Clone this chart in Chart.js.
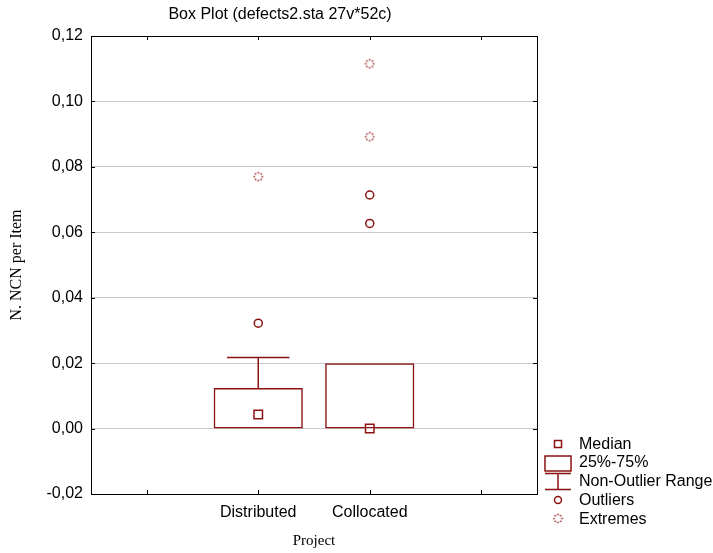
<!DOCTYPE html>
<html>
<head>
<meta charset="utf-8">
<script src="https://cdn.jsdelivr.net/npm/chart.js@4"></script>
<style>
  body { margin: 0; background: #fff; }
  #wrap { width: 713px; height: 553px; }
</style>
</head>
<body>
<div id="wrap"><canvas id="boxChart"></canvas></div>
<script>
// data
var groups = ['Distributed', 'Collocated'];
var labels = [''].concat(groups, ['']);   // empty slots left and right
var q1 = [0, 0];
var q3 = [0.0124, 0.0200];
var medians = [0.0043, 0.0];
var whiskerMin = [0, 0];
var whiskerMax = [0.0217, 0.0200];
var outliers = [[0.0322], [0.0714, 0.0627]];
var extremes = [[0.0770], [0.1115, 0.0892]];
var yTicks = { min: -0.02, max: 0.12, step: 0.02 };

var red = '#8b1212';
var sans = '"Liberation Sans", Arial, sans-serif';
var serif = '"Liberation Serif", "Times New Roman", serif';

// dotted ring used for the "Extremes" marker
function makeExtremeIcon() {
    var c = document.createElement('canvas');
    c.width = 11; c.height = 11;
    var g = c.getContext('2d');
    g.fillStyle = '#9a1f1f';
    for (var k = 0; k < 8; k++) {
        var a = k * Math.PI / 4;
        g.fillRect(5.5 + Math.cos(a) * 4 - 0.75, 5.5 + Math.sin(a) * 4 - 0.75, 1.5, 1.5);
    }
    return c;
}
var extremeIcon = makeExtremeIcon();

function pointsFrom(list) {
    var pts = [];
    list.forEach(function (vals, i) {
        vals.forEach(function (v) { pts.push({ x: groups[i], y: v }); });
    });
    return pts;
}

var whiskerPlugin = {
    id: 'whiskers',
    beforeDatasetsDraw: function (chart) {
        var ctx = chart.ctx, x = chart.scales.x, y = chart.scales.y;
        var half = (x.width / labels.length) * 0.28;
        ctx.save();
        ctx.strokeStyle = red;
        ctx.lineWidth = 1.5;
        groups.forEach(function (g, i) {
            var cx = x.getPixelForValue(labels.indexOf(g));
            [[q3[i], whiskerMax[i]], [q1[i], whiskerMin[i]]].forEach(function (p) {
                if (p[0] === p[1]) return;
                var a = y.getPixelForValue(p[0]), b = y.getPixelForValue(p[1]);
                ctx.beginPath();
                ctx.moveTo(cx, a); ctx.lineTo(cx, b);
                ctx.moveTo(cx - half, b); ctx.lineTo(cx + half, b);
                ctx.stroke();
            });
        });
        ctx.restore();
    }
};

var framePlugin = {
    id: 'frame',
    afterDraw: function (chart) {
        var ctx = chart.ctx, a = chart.chartArea, x = chart.scales.x, y = chart.scales.y;
        ctx.save();
        ctx.strokeStyle = '#000';
        ctx.lineWidth = 1;
        ctx.strokeRect(Math.round(a.left) + 0.5, Math.round(a.top) + 0.5,
            Math.round(a.right - a.left), Math.round(a.bottom - a.top));
        ctx.beginPath();
        y.ticks.forEach(function (t) {
            var py = Math.round(y.getPixelForValue(t.value)) + 0.5;
            ctx.moveTo(a.left, py); ctx.lineTo(a.left + 4, py);
            ctx.moveTo(a.right, py); ctx.lineTo(a.right - 4, py);
        });
        labels.forEach(function (l, i) {
            var px = Math.round(x.getPixelForValue(i)) + 0.5;
            ctx.moveTo(px, a.top); ctx.lineTo(px, a.top + 4);
            ctx.moveTo(px, a.bottom); ctx.lineTo(px, a.bottom - 4);
        });
        ctx.stroke();

        // title
        ctx.fillStyle = '#000';
        ctx.font = '16px ' + sans;
        ctx.textAlign = 'center';
        ctx.textBaseline = 'middle';
        ctx.fillText('Box Plot (defects2.sta 27v*52c)', 280, 15);

        // legend on the right
        var lx = a.right + 21;
        var tx = a.right + 42;
        ctx.strokeStyle = red;
        ctx.lineWidth = 1.5;
        ctx.strokeRect(lx - 3.5, 440.5, 7, 7);
        ctx.strokeRect(lx - 13, 456, 26, 15);
        ctx.beginPath();
        ctx.moveTo(lx - 13, 473.5); ctx.lineTo(lx + 13, 473.5);
        ctx.moveTo(lx, 473.5); ctx.lineTo(lx, 489.5);
        ctx.moveTo(lx - 13, 489.5); ctx.lineTo(lx + 13, 489.5);
        ctx.stroke();
        ctx.beginPath();
        ctx.arc(lx, 500, 3.5, 0, Math.PI * 2);
        ctx.stroke();
        ctx.drawImage(extremeIcon, lx - 5.5, 513);
        ctx.textAlign = 'left';
        ctx.fillText('Median', tx, 445);
        ctx.fillText('25%-75%', tx, 463);
        ctx.fillText('Non-Outlier Range', tx, 482);
        ctx.fillText('Outliers', tx, 501);
        ctx.fillText('Extremes', tx, 520);
        ctx.restore();
    }
};

new Chart(document.getElementById('boxChart'), {
    type: 'bar',
    data: {
        labels: labels,
        datasets: [{
            label: '25%-75%',
            data: groups.map(function (g, i) { return { x: g, y: [q1[i], q3[i]] }; }),
            backgroundColor: 'rgba(0,0,0,0)',
            borderColor: red,
            borderWidth: 1.5,
            borderSkipped: false,
            barPercentage: 0.8,
            categoryPercentage: 1
        }, {
            type: 'scatter',
            label: 'Median',
            data: groups.map(function (g, i) { return { x: g, y: medians[i] }; }),
            pointStyle: 'rect',
            pointRadius: 6,
            backgroundColor: '#fff',
            borderColor: red,
            borderWidth: 1.5
        }, {
            type: 'scatter',
            label: 'Outliers',
            data: pointsFrom(outliers),
            pointStyle: 'circle',
            pointRadius: 4,
            backgroundColor: '#fff',
            borderColor: red,
            borderWidth: 1.5
        }, {
            type: 'scatter',
            label: 'Extremes',
            data: pointsFrom(extremes),
            pointStyle: extremeIcon
        }]
    },
    options: {
        responsive: true,
        maintainAspectRatio: false,
        animation: false,
        layout: { padding: { left: 0, right: 176, top: 36, bottom: 0 } },
        plugins: {
            legend: { display: false },
            tooltip: { enabled: false },
            title: { display: false }
        },
        scales: {
            x: {
                type: 'category',
                labels: labels,
                offset: true,
                grid: { display: false, drawTicks: false },
                border: { display: false },
                ticks: {
                    autoSkip: false,
                    maxRotation: 0,
                    padding: 9,
                    color: '#000',
                    font: { family: sans, size: 16 }
                },
                title: {
                    display: true,
                    text: 'Project',
                    color: '#000',
                    font: { family: serif, size: 15 },
                    padding: { top: 0, bottom: 2.5 }
                },
                afterFit: function (s) { s.height = 59; }
            },
            y: {
                min: yTicks.min,
                max: yTicks.max,
                grid: { color: '#c8c8c8', drawTicks: false },
                border: { display: false },
                ticks: {
                    stepSize: yTicks.step,
                    padding: 8,
                    color: '#000',
                    font: { family: sans, size: 16 },
                    callback: function (v) {
                        if (Math.abs(v) < 1e-9) v = 0;
                        return v.toFixed(2).replace('.', ',');
                    }
                },
                title: {
                    display: true,
                    text: 'N. NCN per Item',
                    color: '#000',
                    font: { family: serif, size: 16 },
                    padding: { top: 7, bottom: 0 }
                },
                afterFit: function (s) { s.width = 91; }
            }
        }
    },
    plugins: [whiskerPlugin, framePlugin]
});
</script>
</body>
</html>
